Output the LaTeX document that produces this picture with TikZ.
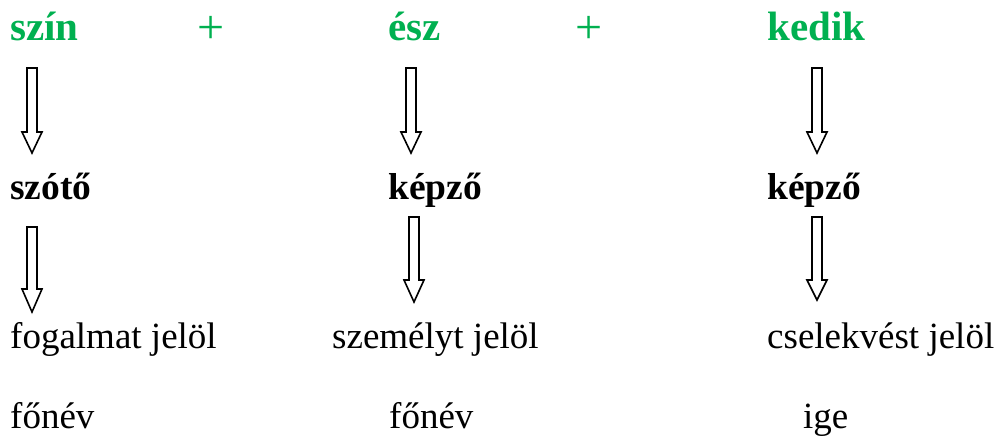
\documentclass[tikz,border=0pt]{standalone}
\usepackage{fontspec}
\setmainfont{Liberation Serif}
\definecolor{tgreen}{RGB}{0,176,80}
\newcommand{\barrow}[4]{% x, top, head base, tip
  \draw[blockarrow] (#1-5,#2) -- (#1+5,#2) -- (#1+5,#3) -- (#1+10,#3) -- (#1,#4) -- (#1-10,#3) -- (#1-5,#3) -- cycle;}
\begin{document}
\begin{tikzpicture}[x=1pt,y=-1pt,
  top/.style={anchor=base west,inner sep=0pt,text=tgreen,font=\fontsize{41}{48}\selectfont\bfseries},
  plus/.style={anchor=base,inner sep=0pt,text=tgreen,font=\fontsize{48}{54}\selectfont},
  mid/.style={anchor=base west,inner sep=0pt,font=\fontsize{37.5}{44}\selectfont\bfseries},
  low/.style={anchor=base west,inner sep=0pt,font=\fontsize{37}{44}\selectfont},
  blockarrow/.style={draw=black,line width=1.6pt,fill=white,line join=miter}]
\useasboundingbox (0,0) rectangle (998,437);
% row 1
\node[top] (szin) at (10,40) {szín};
\node[plus] (p1) at (211,43) {+};
\node[top] (esz) at (388,40) {ész};
\node[plus] (p2) at (589,43) {+};
\node[top] (kedik) at (767,40) {kedik};
% arrows row 1
\barrow{32}{68}{132}{153}
\barrow{411}{68}{132}{153}
\barrow{817}{68}{132}{153}
% row 2
\node[mid] (szoto) at (10,199) {szótő};
\node[mid] (kepzo1) at (388,199) {képző};
\node[mid] (kepzo2) at (767,199) {képző};
% arrows row 2
\barrow{32}{227}{289}{312}
\barrow{414}{217}{280}{302}
\barrow{817}{217}{280}{300}
% row 3
\node[low] (fog) at (10,348) {fogalmat jelöl};
\node[low] (szem) at (332,348) {személyt jelöl};
\node[low] (csel) at (767,348) {cselekvést jelöl};
% row 4
\node[low] (fn1) at (10,428) {főnév};
\node[low] (fn2) at (389,428) {főnév};
\node[low] (ige) at (803,428) {ige};
\end{tikzpicture}
\end{document}
